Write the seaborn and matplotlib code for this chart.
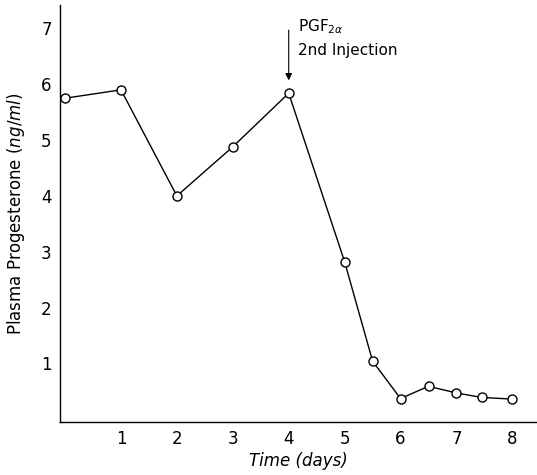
import matplotlib
matplotlib.use("Agg")
import matplotlib.pyplot as plt
import seaborn as sns
import pandas as pd

# --- Data ---
days = [0, 1, 2, 3, 4, 5, 5.5, 6, 6.5, 7, 7.45, 8]
progesterone = [5.75, 5.9, 4.0, 4.88, 5.84, 2.82, 1.04, 0.37, 0.59, 0.47, 0.39, 0.36]
x_ticks = [1, 2, 3, 4, 5, 6, 7, 8]
y_ticks = [1, 2, 3, 4, 5, 6, 7]
injection_day = 4

df = pd.DataFrame({"Time": days, "Progesterone": progesterone})

sns.set_style("white")
plt.rcParams["font.family"] = ["DejaVu Sans"]
plt.rcParams["text.color"] = "black"
plt.rcParams["axes.labelcolor"] = "black"

fig = plt.figure(figsize=(5.37, 4.75), dpi=100)
ax = fig.add_axes([60 / 537, 53 / 475, 477 / 537, 417 / 475])

sns.lineplot(data=df, x="Time", y="Progesterone", ax=ax, color="black",
             linewidth=1.0, marker="o", markersize=6.5,
             markerfacecolor="white", markeredgecolor="black",
             markeredgewidth=1.0, zorder=3)

ax.set_xlim(-0.09, 8.44)
ax.set_ylim(-0.05, 7.42)
ax.set_xticks(x_ticks)
ax.set_yticks(y_ticks)
ax.tick_params(direction="in", length=5, width=1, colors="black",
               labelsize=12, pad=6)

for side in ["top", "right"]:
    ax.spines[side].set_visible(False)
for side in ["left", "bottom"]:
    ax.spines[side].set_color("black")
    ax.spines[side].set_linewidth(1.0)

ax.set_xlabel("Time (days)", fontsize=12, style="italic", labelpad=3)
ax.set_ylabel("Plasma Progesterone $(\\mathit{ng/ml})$", fontsize=12, labelpad=10)

# injection marker
ax.annotate("", xy=(injection_day, 6.02), xytext=(injection_day, 7.02),
            arrowprops=dict(arrowstyle="-|>", color="black", lw=0.8,
                            mutation_scale=10))
ax.text(injection_day + 0.17, 7.04, "PGF$_{2\\alpha}$", fontsize=11, va="center")
ax.text(injection_day + 0.17, 6.61, "2nd Injection", fontsize=11, va="center")

fig.savefig("out.png", dpi=100)
